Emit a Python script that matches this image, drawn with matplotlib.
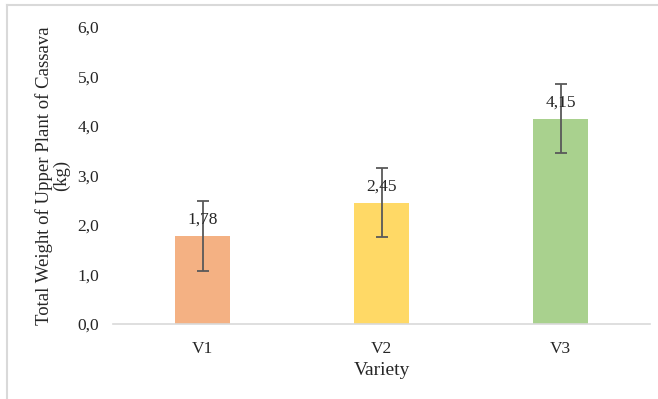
import matplotlib

matplotlib.use("Agg")
import matplotlib.pyplot as plt
from matplotlib.lines import Line2D

plt.rcParams["font.family"] = ["Liberation Serif", "DejaVu Serif"]

# ── Data ───────────────────────────────────────────────────────────────

varieties = ["V1", "V2", "V3"]
weights = [1.78, 2.45, 4.15]
errors = [0.70, 0.70, 0.70]
bar_colors = ["#F4B183", "#FFD966", "#A9D18E"]
y_ticks = [0.0, 1.0, 2.0, 3.0, 4.0, 5.0, 6.0]

# ── Plot ───────────────────────────────────────────────────────────────

fig = plt.figure(figsize=(6.58, 3.99), dpi=100)
ax = fig.add_axes([0.172, 0.188, 0.816, 0.744])

x = range(len(varieties))
ax.bar(x, weights, width=0.31, color=bar_colors, zorder=2)
ax.errorbar(x, weights, yerr=errors, fmt="none", ecolor="#595959",
            elinewidth=1.3, capsize=4, capthick=1.3, zorder=3)

for i, v in enumerate(weights):
    ax.text(i, v + 0.17, f"{v:.2f}".replace(".", ","), ha="center",
            va="bottom", fontsize=12.5, color="#262626", zorder=4)

ax.set_xlim(-0.5, len(varieties) - 0.5)
ax.set_ylim(0, 6.0)
ax.set_xticks(list(x))
ax.set_xticklabels(varieties, fontsize=12.5, color="#262626")
ax.set_yticks(y_ticks)
ax.set_yticklabels([f"{t:.1f}".replace(".", ",") for t in y_ticks],
                   fontsize=12.5, color="#262626")
ax.tick_params(axis="both", length=0)
ax.tick_params(axis="y", pad=10)
ax.tick_params(axis="x", pad=12)

for side in ["top", "right", "left"]:
    ax.spines[side].set_visible(False)
ax.spines["bottom"].set_color("#D9D9D9")
ax.spines["bottom"].set_linewidth(1.2)

ax.set_xlabel("Variety", fontsize=14, color="#262626", labelpad=4)
ax.set_ylabel("Total Weight of Upper Plant of Cassava\n(kg)", fontsize=13.5,
              color="#262626", labelpad=5, linespacing=1.0)

# outer chart frame (partially cropped in the original)
fig.add_artist(Line2D([7 / 658, 1.0], [1 - 5 / 399, 1 - 5 / 399],
                      color="#D9D9D9", lw=1.5, transform=fig.transFigure))
fig.add_artist(Line2D([7 / 658, 7 / 658], [0.0, 1 - 5 / 399],
                      color="#D9D9D9", lw=1.5, transform=fig.transFigure))

fig.savefig("out.png", dpi=100)
